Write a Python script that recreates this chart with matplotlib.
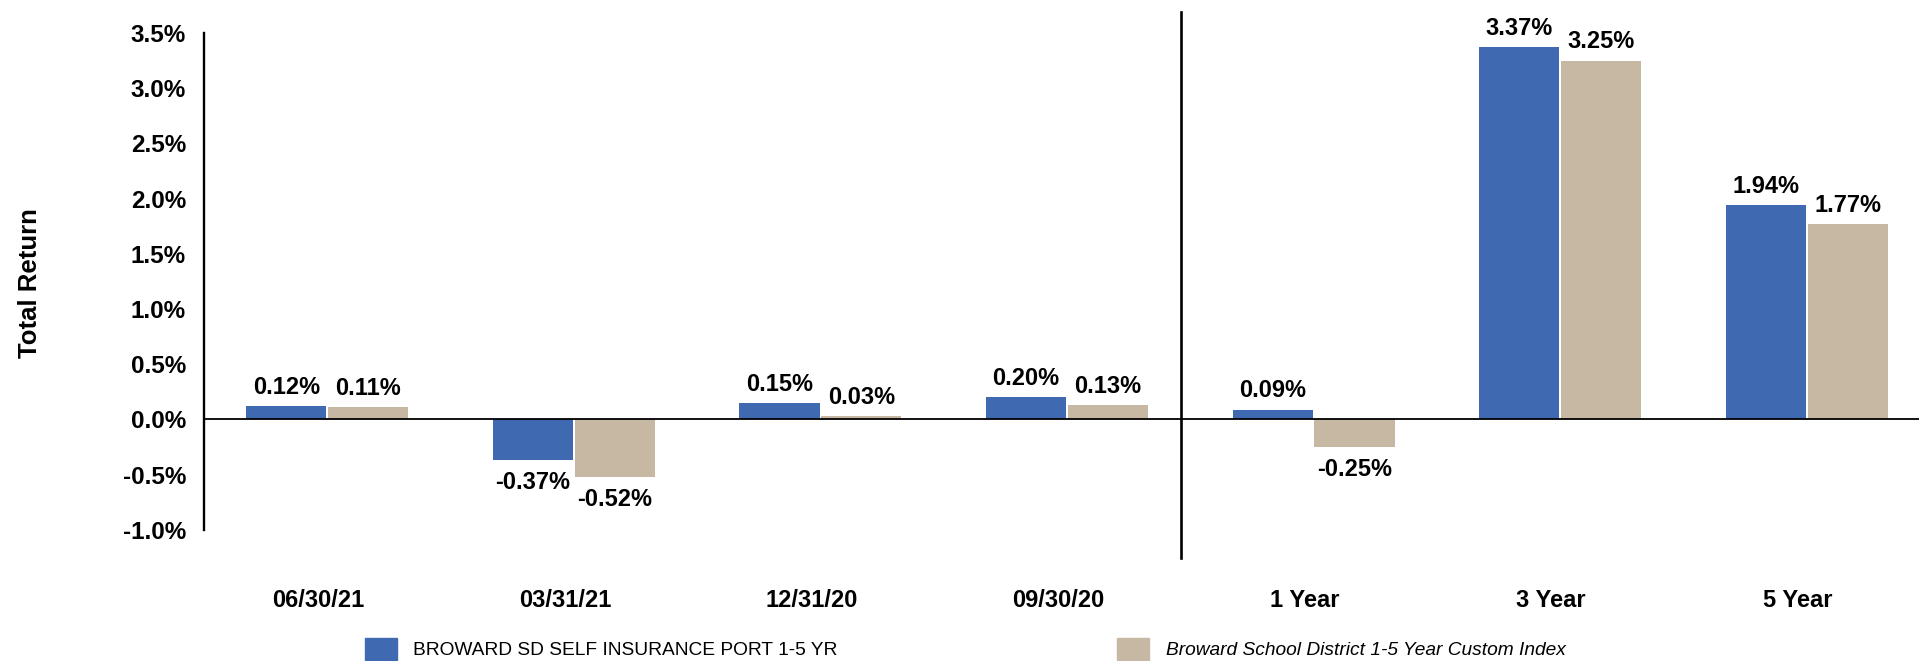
import matplotlib.pyplot as plt
import numpy as np
from matplotlib.patches import Patch
from matplotlib.transforms import ScaledTranslation

plt.rcParams['font.family'] = ['Liberation Sans', 'DejaVu Sans']

categories = ['06/30/21', '03/31/21', '12/31/20', '09/30/20',
              '1 Year', '3 Year', '5 Year']
portfolio = [0.12, -0.37, 0.15, 0.20, 0.09, 3.37, 1.94]
benchmark = [0.11, -0.52, 0.03, 0.13, -0.25, 3.25, 1.77]
yticks = [-1.0, -0.5, 0.0, 0.5, 1.0, 1.5, 2.0, 2.5, 3.0, 3.5]
label_port = 'BROWARD SD SELF INSURANCE PORT 1-5 YR'
label_bench = 'Broward School District 1-5 Year Custom Index'

c_blue = '#3F6AB1'
c_tan = '#C7B8A3'

W, H = 1919, 661
fig = plt.figure(figsize=(W / 100, H / 100), dpi=100)
# axes box in pixels: left 204, right 1930, top 12, bottom 557.5
ax = fig.add_axes([204 / W, 1 - 557.5 / H, (1930 - 204) / W,
                   (557.5 - 12.1) / H])

x = np.arange(len(categories))
bw = 0.325
off = 0.166
b1 = ax.bar(x - off, portfolio, bw, color=c_blue, zorder=2)
b2 = ax.bar(x + off, benchmark, bw, color=c_tan, zorder=2)

# value labels
for bars, vals in ((b1, portfolio), (b2, benchmark)):
    for rect, v in zip(bars, vals):
        cx = rect.get_x() + rect.get_width() / 2
        if v >= 0:
            ax.annotate('%.2f%%' % v, (cx, v), xytext=(0, 5.3),
                        textcoords='offset points', ha='center',
                        va='bottom', fontsize=17, fontweight='bold')
        else:
            ax.annotate('%.2f%%' % v, (cx, v), xytext=(0, -7.7),
                        textcoords='offset points', ha='center',
                        va='top', fontsize=17, fontweight='bold')

ax.set_xlim(-0.5, 6.5)
ax.set_ylim(-1.25, 3.69)

ax.axhline(0, color='black', lw=1.3, zorder=3)
# divider between quarterly and annualised periods
ax.plot([3.462, 3.462], [-1.25, 3.69], color='black', lw=1.9,
        clip_on=False, zorder=3)

for s in ['top', 'right', 'bottom']:
    ax.spines[s].set_visible(False)
ax.spines['left'].set_linewidth(1.7)
ax.spines['left'].set_bounds(-1.0, 3.5)

ax.set_yticks(yticks)
ax.set_yticklabels(['%.1f%%' % t for t in yticks])
ax.set_xticks(x)
ax.set_xticklabels(categories)
ax.tick_params(axis='y', length=0, pad=13, labelsize=17.5)
ax.tick_params(axis='x', length=0, pad=23, labelsize=17)
shift = ScaledTranslation(-9 / 100, 0, fig.dpi_scale_trans)
for t in ax.get_xticklabels():
    t.set_transform(t.get_transform() + shift)
for t in ax.get_yticklabels() + ax.get_xticklabels():
    t.set_fontweight('bold')

ax.set_ylabel('Total Return', fontsize=18.5, fontweight='bold')
ax.yaxis.set_label_coords(42 / W, 1 - 283 / H, transform=fig.transFigure)

fs_leg = 13.8
px = fs_leg * 100 / 72
leg1 = fig.legend(handles=[Patch(color=c_blue)], labels=[label_port],
                  loc='center left', bbox_to_anchor=(365 / W, 1 - 649 / H),
                  frameon=False, borderpad=0, borderaxespad=0,
                  handlelength=32 / px, handleheight=26 / px,
                  handletextpad=16 / px, fontsize=fs_leg)
leg2 = fig.legend(handles=[Patch(color=c_tan)], labels=[label_bench],
                  loc='center left', bbox_to_anchor=(1117 / W, 1 - 649 / H),
                  frameon=False, borderpad=0, borderaxespad=0,
                  handlelength=32 / px, handleheight=26 / px,
                  handletextpad=17 / px, fontsize=fs_leg)
leg2.get_texts()[0].set_style('italic')

fig.savefig('out.png', dpi=100)
